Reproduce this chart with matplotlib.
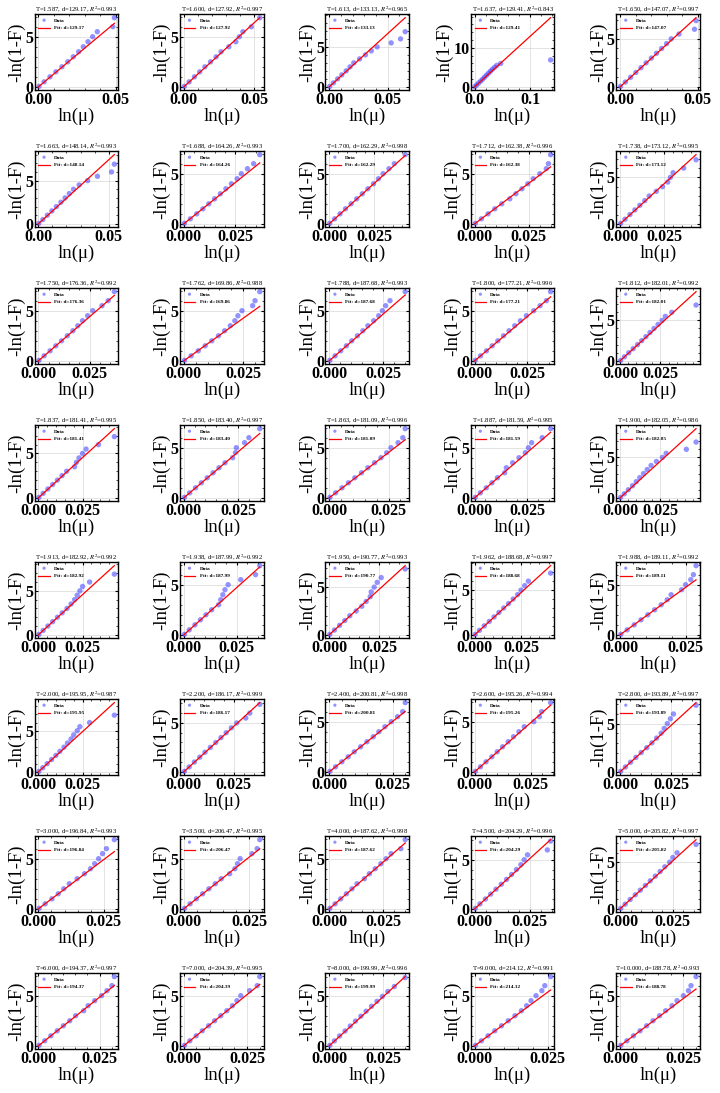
import numpy as np
import matplotlib
matplotlib.use("Agg")
import matplotlib.pyplot as plt
from matplotlib.ticker import MaxNLocator, AutoMinorLocator

plt.rcParams['font.family'] = ['Liberation Serif', 'DejaVu Serif']
plt.rcParams['mathtext.fontset'] = 'stix'

# Temperatures, fitted slopes and goodness of fit for each panel
temps = [1.587, 1.600, 1.613, 1.637, 1.650,
         1.663, 1.688, 1.700, 1.712, 1.738,
         1.750, 1.762, 1.788, 1.800, 1.812,
         1.837, 1.850, 1.863, 1.887, 1.900,
         1.913, 1.938, 1.950, 1.962, 1.988,
         2.000, 2.200, 2.400, 2.600, 2.800,
         3.000, 3.500, 4.000, 4.500, 5.000,
         6.000, 7.000, 8.000, 9.000, 10.000]
d_fit = [129.17, 127.92, 133.13, 129.41, 147.07,
         148.14, 164.26, 162.29, 162.38, 173.12,
         176.36, 169.86, 187.68, 177.21, 182.01,
         181.41, 183.40, 181.09, 181.59, 182.05,
         182.92, 187.99, 190.77, 188.68, 189.11,
         195.95, 186.17, 200.81, 195.26, 193.89,
         196.84, 206.47, 187.62, 204.29, 205.82,
         194.37, 204.39, 199.99, 214.12, 188.78]
r2 = [0.993, 0.997, 0.965, 0.843, 0.997,
      0.993, 0.993, 0.998, 0.996, 0.995,
      0.992, 0.988, 0.993, 0.996, 0.992,
      0.995, 0.997, 0.996, 0.995, 0.986,
      0.992, 0.992, 0.993, 0.997, 0.992,
      0.987, 0.999, 0.998, 0.994, 0.997,
      0.993, 0.995, 0.998, 0.996, 0.997,
      0.997, 0.995, 0.996, 0.991, 0.993]

# -ln(1-F) levels (same empirical quantiles for every panel)
y_levels = [0.05, 0.5, 1.0, 1.5, 2.0, 2.5, 3.0, 3.5, 4.0, 4.5, 5.0, 5.5, 6.0, 6.9]

# ln(mu) read at each level, one row per panel
x_data = [
    [0.0004, 0.0037, 0.0075, 0.0113, 0.0152, 0.0190, 0.0225, 0.0260, 0.0290, 0.0320, 0.0350, 0.0380, 0.0480, 0.0490],
    [0.0004, 0.0038, 0.0076, 0.0113, 0.0150, 0.0190, 0.0230, 0.0265, 0.0320, 0.0370, 0.0395, 0.0420, 0.0480, 0.0540],
    [0.0004, 0.0036, 0.0072, 0.0108, 0.0145, 0.0178, 0.0210, 0.0260, 0.0310, 0.0360, 0.0410, 0.0530, 0.0610, 0.0650],
    [0.0004, 0.0037, 0.0073, 0.0110, 0.0146, 0.0180, 0.0215, 0.0250, 0.0285, 0.0320, 0.0360, 0.0400, 0.0470, 0.1370],
    [0.0003, 0.0034, 0.0068, 0.0102, 0.0135, 0.0168, 0.0202, 0.0235, 0.0268, 0.0300, 0.0330, 0.0380, 0.0480, 0.0490],
    [0.0003, 0.0032, 0.0064, 0.0096, 0.0128, 0.0160, 0.0190, 0.0220, 0.0250, 0.0290, 0.0350, 0.0420, 0.0520, 0.0540],
    [0.0003, 0.0032, 0.0063, 0.0093, 0.0122, 0.0150, 0.0178, 0.0205, 0.0232, 0.0260, 0.0280, 0.0310, 0.0340, 0.0370],
    [0.0003, 0.0030, 0.0060, 0.0090, 0.0121, 0.0152, 0.0183, 0.0214, 0.0245, 0.0272, 0.0298, 0.0330, 0.0360, 0.0420],
    [0.0003, 0.0031, 0.0062, 0.0093, 0.0125, 0.0162, 0.0190, 0.0218, 0.0245, 0.0270, 0.0300, 0.0330, 0.0340, 0.0350],
    [0.0003, 0.0028, 0.0056, 0.0084, 0.0112, 0.0140, 0.0165, 0.0205, 0.0240, 0.0270, 0.0285, 0.0300, 0.0360, 0.0430],
    [0.0003, 0.0028, 0.0057, 0.0085, 0.0113, 0.0141, 0.0168, 0.0192, 0.0215, 0.0240, 0.0265, 0.0310, 0.0340, 0.0370],
    [0.0003, 0.0031, 0.0061, 0.0090, 0.0118, 0.0146, 0.0172, 0.0196, 0.0215, 0.0228, 0.0245, 0.0290, 0.0300, 0.0320],
    [0.0003, 0.0027, 0.0053, 0.0079, 0.0104, 0.0130, 0.0155, 0.0178, 0.0205, 0.0228, 0.0245, 0.0260, 0.0280, 0.0350],
    [0.0003, 0.0028, 0.0056, 0.0083, 0.0110, 0.0137, 0.0163, 0.0190, 0.0217, 0.0245, 0.0280, 0.0310, 0.0340, 0.0360],
    [0.0003, 0.0027, 0.0054, 0.0081, 0.0108, 0.0134, 0.0160, 0.0185, 0.0210, 0.0235, 0.0260, 0.0280, 0.0320, 0.0470],
    [0.0003, 0.0027, 0.0054, 0.0081, 0.0108, 0.0134, 0.0160, 0.0205, 0.0215, 0.0230, 0.0250, 0.0270, 0.0340, 0.0430],
    [0.0003, 0.0027, 0.0054, 0.0081, 0.0108, 0.0135, 0.0162, 0.0190, 0.0225, 0.0238, 0.0242, 0.0280, 0.0300, 0.0350],
    [0.0003, 0.0027, 0.0054, 0.0081, 0.0108, 0.0136, 0.0163, 0.0191, 0.0218, 0.0242, 0.0260, 0.0290, 0.0310, 0.0320],
    [0.0003, 0.0027, 0.0055, 0.0082, 0.0108, 0.0142, 0.0150, 0.0180, 0.0210, 0.0240, 0.0255, 0.0270, 0.0320, 0.0360],
    [0.0003, 0.0026, 0.0051, 0.0077, 0.0100, 0.0122, 0.0145, 0.0168, 0.0192, 0.0225, 0.0262, 0.0285, 0.0410, 0.0470],
    [0.0003, 0.0027, 0.0054, 0.0081, 0.0108, 0.0135, 0.0162, 0.0185, 0.0205, 0.0220, 0.0235, 0.0250, 0.0290, 0.0430],
    [0.0003, 0.0026, 0.0053, 0.0079, 0.0105, 0.0132, 0.0165, 0.0175, 0.0185, 0.0195, 0.0210, 0.0270, 0.0340, 0.0360],
    [0.0003, 0.0026, 0.0052, 0.0078, 0.0103, 0.0135, 0.0163, 0.0185, 0.0205, 0.0210, 0.0225, 0.0240, 0.0260, 0.0380],
    [0.0003, 0.0026, 0.0052, 0.0079, 0.0105, 0.0131, 0.0157, 0.0183, 0.0208, 0.0232, 0.0250, 0.0270, 0.0290, 0.0410],
    [0.0003, 0.0027, 0.0054, 0.0080, 0.0106, 0.0132, 0.0157, 0.0180, 0.0195, 0.0235, 0.0250, 0.0270, 0.0280, 0.0290],
    [0.0003, 0.0025, 0.0050, 0.0075, 0.0099, 0.0122, 0.0145, 0.0165, 0.0185, 0.0200, 0.0220, 0.0235, 0.0290, 0.0430],
    [0.0003, 0.0027, 0.0053, 0.0080, 0.0106, 0.0133, 0.0160, 0.0186, 0.0212, 0.0238, 0.0265, 0.0310, 0.0330, 0.0380],
    [0.0003, 0.0025, 0.0050, 0.0075, 0.0099, 0.0124, 0.0149, 0.0174, 0.0196, 0.0220, 0.0245, 0.0270, 0.0290, 0.0300],
    [0.0003, 0.0026, 0.0051, 0.0077, 0.0101, 0.0125, 0.0150, 0.0174, 0.0198, 0.0222, 0.0265, 0.0290, 0.0300, 0.0340],
    [0.0003, 0.0026, 0.0051, 0.0077, 0.0103, 0.0130, 0.0155, 0.0178, 0.0200, 0.0215, 0.0230, 0.0245, 0.0260, 0.0370],
    [0.0003, 0.0026, 0.0052, 0.0076, 0.0097, 0.0118, 0.0148, 0.0176, 0.0199, 0.0215, 0.0230, 0.0245, 0.0260, 0.0290],
    [0.0003, 0.0024, 0.0048, 0.0072, 0.0096, 0.0120, 0.0143, 0.0175, 0.0195, 0.0205, 0.0215, 0.0260, 0.0280, 0.0290],
    [0.0003, 0.0027, 0.0053, 0.0079, 0.0105, 0.0128, 0.0162, 0.0185, 0.0212, 0.0238, 0.0262, 0.0285, 0.0330, 0.0350],
    [0.0003, 0.0024, 0.0049, 0.0073, 0.0097, 0.0121, 0.0145, 0.0168, 0.0190, 0.0210, 0.0225, 0.0240, 0.0330, 0.0345],
    [0.0003, 0.0024, 0.0048, 0.0072, 0.0096, 0.0120, 0.0143, 0.0167, 0.0190, 0.0212, 0.0235, 0.0250, 0.0270, 0.0360],
    [0.0003, 0.0026, 0.0051, 0.0077, 0.0102, 0.0128, 0.0152, 0.0185, 0.0203, 0.0230, 0.0258, 0.0280, 0.0300, 0.0310],
    [0.0003, 0.0024, 0.0049, 0.0073, 0.0098, 0.0122, 0.0146, 0.0170, 0.0192, 0.0210, 0.0225, 0.0260, 0.0290, 0.0300],
    [0.0003, 0.0024, 0.0048, 0.0073, 0.0097, 0.0121, 0.0146, 0.0170, 0.0195, 0.0220, 0.0245, 0.0270, 0.0300, 0.0350],
    [0.0003, 0.0023, 0.0046, 0.0069, 0.0092, 0.0115, 0.0138, 0.0160, 0.0178, 0.0193, 0.0210, 0.0230, 0.0240, 0.0260],
    [0.0003, 0.0027, 0.0053, 0.0079, 0.0105, 0.0130, 0.0156, 0.0180, 0.0205, 0.0225, 0.0250, 0.0270, 0.0280, 0.0300],
]

fig, axes = plt.subplots(8, 5, figsize=(7.2, 10.93), dpi=100)
fig.subplots_adjust(left=0.048, right=0.972, top=0.987, bottom=0.040,
                    wspace=0.74, hspace=0.80)

for i, ax in enumerate(axes.flat):
    xs = np.array(x_data[i])
    ys = np.array(y_levels)
    d = d_fit[i]

    ax.scatter(xs, ys, s=15, color='#3a3aff', alpha=0.55, edgecolors='none',
               label='Data', zorder=2)
    xline = np.array([0.0, xs.max()])
    ax.plot(xline, d * xline, color='red', lw=0.9, label=f'Fit: d={d:.2f}', zorder=3)

    ax.set_title(f'T={temps[i]:.3f}, d={d:.2f}, $R^2$={r2[i]:.3f}', fontsize=4.8, pad=2.5)
    ax.set_xlabel('ln(μ)', fontsize=13.5, labelpad=0)
    ax.set_ylabel('-ln(1-F)', fontsize=13.5, labelpad=0)

    ax.xaxis.set_major_locator(MaxNLocator(nbins=2, steps=[1, 2.5, 5, 10]))
    ax.yaxis.set_major_locator(MaxNLocator(nbins=2, steps=[1, 2.5, 5, 10]))
    ax.xaxis.set_minor_locator(AutoMinorLocator(5))
    ax.yaxis.set_minor_locator(AutoMinorLocator(5))
    ax.tick_params(which='both', direction='in', top=True, right=True)
    ax.tick_params(which='major', length=2.5, width=0.8, labelsize=11.5, pad=1)
    ax.tick_params(which='minor', length=1.2, width=0.5)
    for lab in ax.get_xticklabels() + ax.get_yticklabels():
        lab.set_fontweight('bold')
    for sp in ax.spines.values():
        sp.set_linewidth(1.0)
    ax.grid(True, color='#d0d0d0', lw=0.6, alpha=0.7)
    ax.set_axisbelow(True)

    ax.legend(loc='upper left', frameon=False, handlelength=2.2,
              borderaxespad=0.3, labelspacing=0.6, markerscale=0.6,
              prop={'weight': 'bold', 'size': 3.8})

fig.savefig('out.png', dpi=100)
